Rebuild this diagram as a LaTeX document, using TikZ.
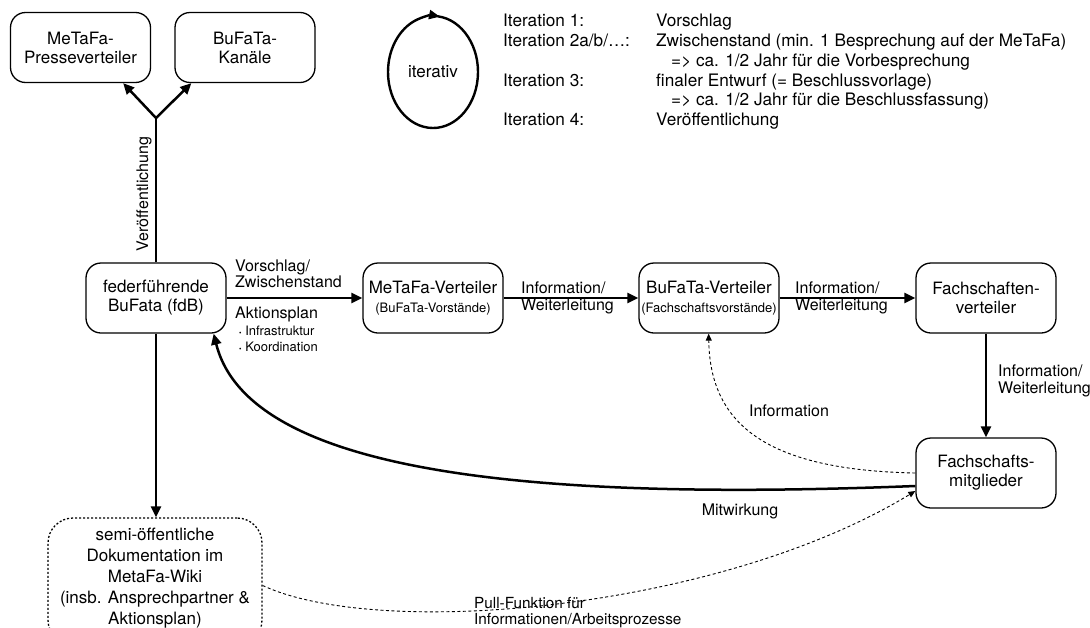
\documentclass[tikz,border=0pt]{standalone}
\usepackage{fontspec}
\setmainfont{TeX Gyre Heros}
\usetikzlibrary{arrows.meta,calc}
\begin{document}
\begin{tikzpicture}[x=1pt,y=-1pt,
  box/.style={draw, line width=1.3pt, rounded corners=15pt, minimum width=140pt, minimum height=70pt, align=center, font=\fontsize{17}{19}\selectfont, inner sep=2pt},
  dbox/.style={box, dash pattern=on 2pt off 2pt, rounded corners=25pt},
  flow/.style={line width=2.5pt, -{Triangle[length=11pt,width=10pt]}},
  dflow/.style={line width=0.9pt, dash pattern=on 3pt off 2.5pt, -{Triangle[length=7pt,width=6pt]}},
  lbl/.style={font=\fontsize{16}{16.5}\selectfont, align=left, inner sep=0pt},
  itxt/.style={font=\fontsize{17.2}{19.8}\selectfont, align=left, inner sep=0pt, anchor=north west}
]
\useasboundingbox (0,0) rectangle (1090,627);
\clip (0,0) rectangle (1090,627);

% nodes
\node[box] (presse) at (80.5,47.5) {MeTaFa-\\Presseverteiler};
\node[box] (kanaele) at (245,47.5) {BuFaTa-\\Kanäle};
\node[box] (fdb) at (156,298) {federführende\\BuFata (fdB)};
\node[box] (mv) at (433,298) {MeTaFa-Verteiler\\{\fontsize{13}{14}\selectfont (BuFaTa-Vorstände)}};
\node[box] (bv) at (709,298) {BuFaTa-Verteiler\\{\fontsize{13}{14}\selectfont (Fachschaftsvorstände)}};
\node[box] (fv) at (986,298) {Fachschaften-\\verteiler};
\node[box] (fm) at (986,473) {Fachschafts-\\mitglieder};
\node[dbox, minimum width=214pt, minimum height=127pt, text depth=10pt, font=\fontsize{17}{21}\selectfont] (semi) at (155,581.5) {semi-öffentliche\\Dokumentation im\\MetaFa-Wiki\\(insb. Ansprechpartner \&\\Aktionsplan)};

% iterativ
\node[font=\fontsize{17}{18}\selectfont] (it) at (433,72) {iterativ};
\draw[line width=2.4pt, -{Triangle[length=11pt,width=9pt]}] (it.center) ++(-84:45 and 56) arc[start angle=-84, end angle=279, x radius=45, y radius=56];

\node[itxt] (itl) at (503,14) {Iteration 1:\\Iteration 2a/b/…:\\\mbox{}\\Iteration 3:\\\mbox{}\\Iteration 4:};
\node[itxt] (itr) at (656,14) {Vorschlag\\Zwischenstand (min. 1 Besprechung auf der MeTaFa)\\\hspace*{15pt}=> ca. 1/2 Jahr für die Vorbesprechung\\finaler Entwurf (= Beschlussvorlage)\\\hspace*{15pt}=> ca. 1/2 Jahr für die Beschlussfassung)\\Veröffentlichung};

% publication fork
\coordinate (J) at (156,118);
\draw[line width=2.5pt] (fdb.north) -- (J);
\draw[flow] (J) -- ([xshift=-28pt]presse.south east);
\draw[flow] (J) -- ([xshift=17pt]kanaele.south west);
\node[lbl, rotate=90] (veroe) at (144,194) {Veröffentlichung};

% main chain
\draw[flow] (fdb) -- (mv);
\draw[flow] (mv) -- (bv);
\draw[flow] (bv) -- (fv);
\draw[flow] (fv) -- (fm);
\draw[flow] (fdb.south) -- (fdb.south |- semi.north);

% labels
\node[lbl, anchor=west] (l1) at (235,274) {Vorschlag/\\Zwischenstand};
\node[lbl, anchor=west] (l2) at (235,314) {Aktionsplan};
\node[font=\fontsize{13}{16}\selectfont, align=left, anchor=west, inner sep=0pt] (l3) at (239,339) {{\fontsize{7}{7}\selectfont\textbullet}\ Infrastruktur\\{\fontsize{7}{7}\selectfont\textbullet}\ Koordination};
\node[lbl, anchor=west] (l4) at (521,298) {Information/\\Weiterleitung};
\node[lbl, anchor=west] (l5) at (795,298) {Information/\\Weiterleitung};
\node[lbl, anchor=west] (l6) at (998,381) {Information/\\Weiterleitung};
\node[lbl] (l7) at (789,411) {Information};
\node[lbl] (l8) at (740,511) {Mitwirkung};
\node[lbl, anchor=north west, font=\fontsize{15.3}{16}\selectfont] (l9) at (474,597) {Pull-Funktion für\\Informationen/Arbeitsprozesse};

% curves
\draw[line width=2.5pt, -{Triangle[length=11pt,width=10pt]}] ($(fm.west)+(0,13)$) .. controls (560,500) and (250,480) .. ([xshift=-13pt]fdb.south east);
\draw[dflow] (fm.west) .. controls (760,470) and (710,420) .. ([xshift=-71pt]bv.south east);
\draw[dflow] ($(semi.east)+(0,4)$) .. controls (380,640) and (720,610) .. ($(fm.west)+(0,18)$);
\end{tikzpicture}
\end{document}
